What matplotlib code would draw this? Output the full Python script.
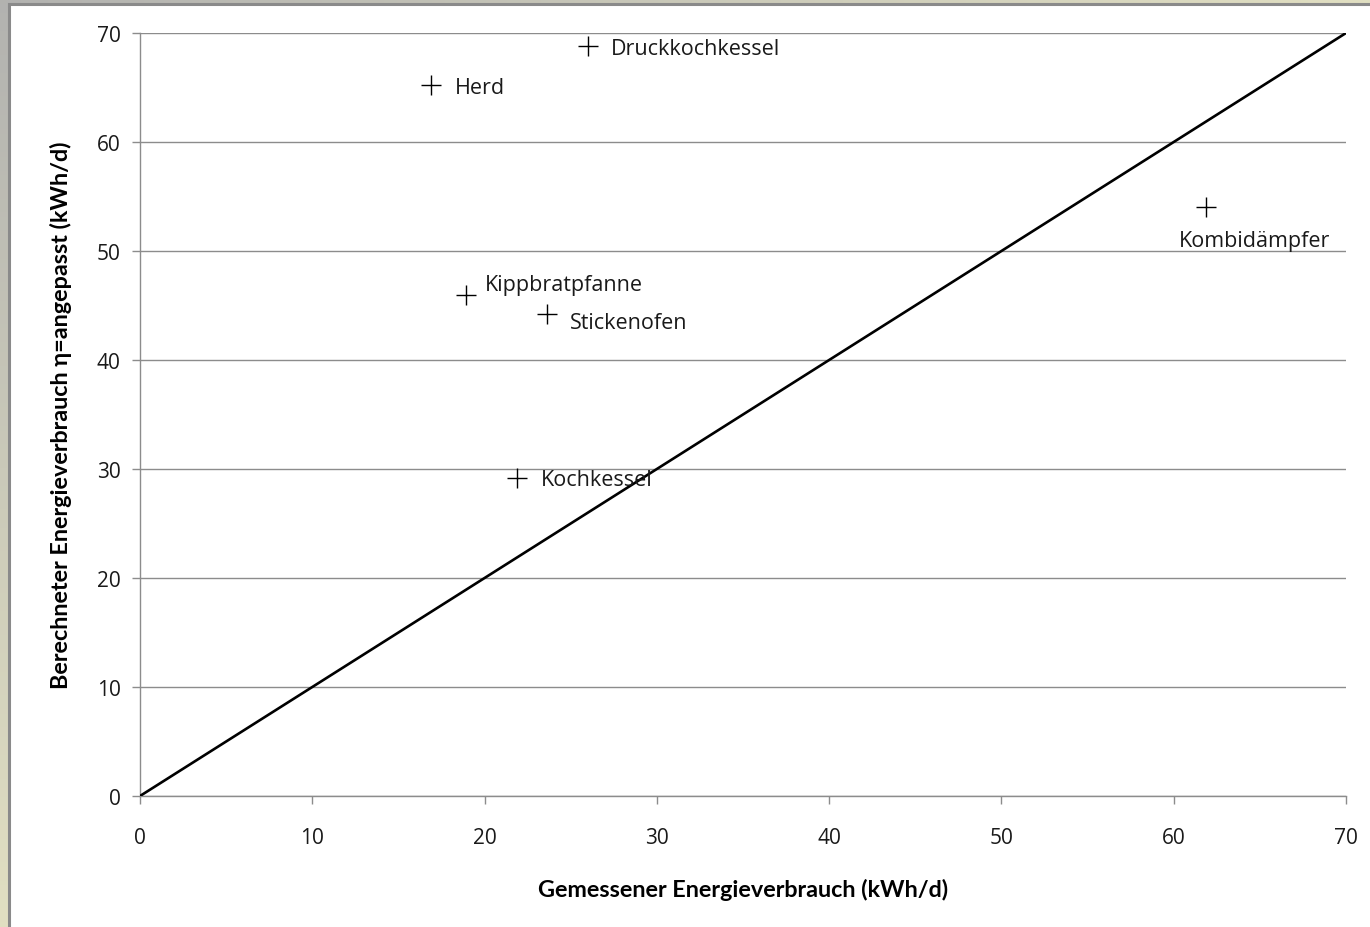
import matplotlib.pyplot as plt
import numpy as np
from matplotlib.patches import Rectangle

# data
names = ['Herd', 'Druckkochkessel', 'Kombidämpfer', 'Kippbratpfanne', 'Stickenofen', 'Kochkessel']
measured = [16.9, 26.0, 61.9, 18.9, 23.6, 21.9]
calculated = [65.2, 68.8, 54.0, 46.0, 44.2, 29.2]
diag = [0, 70]
ticks = [0, 10, 20, 30, 40, 50, 60, 70]

# label offsets in points (dx, dy)
offsets = {
    'Herd': (17, -1.5),
    'Druckkochkessel': (16.5, -2),
    'Kombidämpfer': (-20, -24),
    'Kippbratpfanne': (14, 7.5),
    'Stickenofen': (17, -6),
    'Kochkessel': (17, -1.5),
}

plt.rcParams['font.family'] = ['Open Sans', 'DejaVu Sans']

fig = plt.figure(figsize=(13.7, 9.28), dpi=100)

# slide-like frame: gray/yellow gradient behind a white panel
bg = fig.add_axes([0, 0, 1, 1], zorder=-10)
yy, xx = np.mgrid[0:1:200j, 0:1:200j]
t = np.clip(0.7 * xx + 0.7 * yy, 0, 1)
c0 = np.array([0.70, 0.70, 0.69])
c1 = np.array([0.96, 0.95, 0.79])
img = c0[None, None, :] * (1 - t[..., None]) + c1[None, None, :] * t[..., None]
bg.imshow(img, extent=[0, 1, 0, 1], aspect='auto', origin='upper')
bg.add_patch(Rectangle((9 / 1370, -0.01), 1.1, (928 - 5) / 928 + 0.01,
                       facecolor='white', edgecolor='#8a8a8a', linewidth=2.2))
bg.set_xlim(0, 1)
bg.set_ylim(0, 1)
bg.axis('off')

ax = fig.add_axes([140 / 1370, 131 / 928, 1206 / 1370, 763 / 928])
ax.set_facecolor('none')

ax.plot(diag, diag, color='black', linewidth=1.9, zorder=3)
ax.plot(measured, calculated, linestyle='none', marker='+', markersize=14,
        markeredgewidth=1.0, color='black', zorder=4)

for n, x, y in zip(names, measured, calculated):
    dx, dy = offsets[n]
    ax.annotate(n, (x, y), xytext=(dx, dy), textcoords='offset points',
                ha='left', va='center', fontsize=15.5, color='#1a1a1a', zorder=5)

ax.set_xlim(0, 70)
ax.set_ylim(0, 70)
ax.set_xticks(ticks)
ax.set_yticks(ticks)
ax.grid(axis='y', color='#8c8c8c', linewidth=1.0)
ax.set_axisbelow(True)
for s in ['top', 'right']:
    ax.spines[s].set_visible(False)
for s in ['left', 'bottom']:
    ax.spines[s].set_color('#8c8c8c')
    ax.spines[s].set_linewidth(1.0)
ax.tick_params(direction='out', length=6, width=1.0, color='#8c8c8c',
               labelsize=15, labelcolor='#1a1a1a', pad=8)
ax.tick_params(axis='x', pad=16)

ax.set_xlabel('Gemessener Energieverbrauch (kWh/d)', fontsize=16.8,
              fontweight='bold', family=['Lato', 'DejaVu Sans'], labelpad=22)
ax.set_ylabel('Berechneter Energieverbrauch η=angepasst (kWh/d)', fontsize=16.8,
              fontweight='bold', family=['Lato', 'DejaVu Sans'], labelpad=18)

fig.savefig('out.png', dpi=100)
